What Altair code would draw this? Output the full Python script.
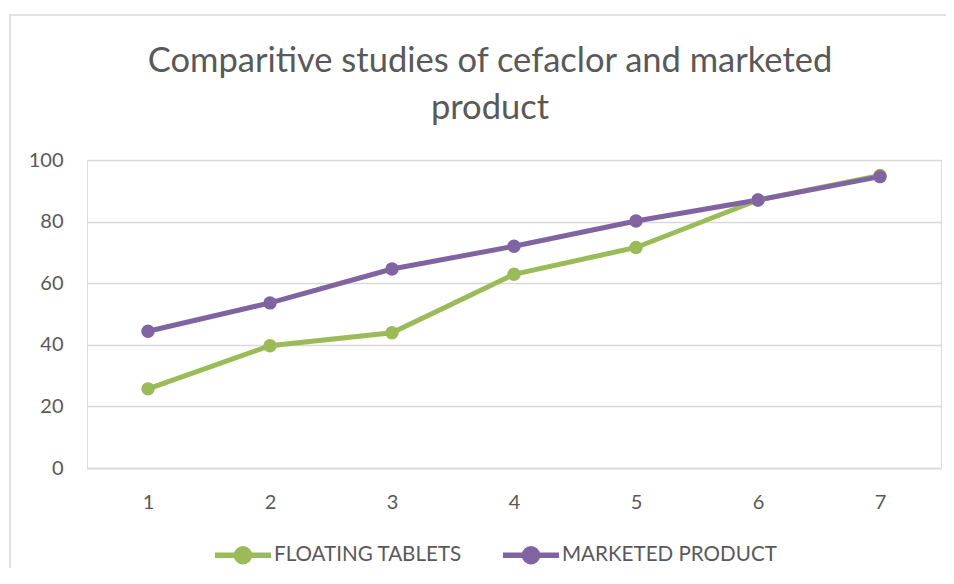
import altair as alt
import pandas as pd

days = [1, 2, 3, 4, 5, 6, 7]
floating = [25.7, 39.7, 43.9, 62.9, 71.6, 87.0, 95.0]
marketed = [44.4, 53.6, 64.6, 72.0, 80.2, 87.0, 94.6]
series = ["FLOATING TABLETS", "MARKETED PRODUCT"]
colors = ["#9BBB59", "#8064A2"]
y_ticks = [0, 20, 40, 60, 80, 100]
title_lines = ["Comparitive studies of cefaclor and marketed", "product"]

df = pd.DataFrame({
    "x": days + days,
    "y": floating + marketed,
    "series": [series[0]] * len(days) + [series[1]] * len(days),
})

FONT = "Lato"
GREY = "#595959"
LEGEND_SYMBOL = ("M-1,0L1,0M-0.232,0A0.232,0.232 0 1,1 0.232,0"
                 "A0.232,0.232 0 1,1 -0.232,0Z")

lines = alt.Chart(df).mark_line(
    strokeWidth=5,
    point=alt.OverlayMarkDef(size=180, filled=True, opacity=1),
).encode(
    x=alt.X("x:O", scale=alt.Scale(padding=0.5),
            axis=alt.Axis(title=None, labelAngle=0, ticks=False, tickSize=0,
                          domain=True, domainColor="#d9d9d9", domainWidth=1.3,
                          grid=False, labelPadding=24, labelFontSize=20,
                          labelFont=FONT, labelColor=GREY)),
    y=alt.Y("y:Q", scale=alt.Scale(domain=[0, 100], nice=False),
            axis=alt.Axis(title=None, values=y_ticks, ticks=False, tickSize=0,
                          domain=False, grid=True, gridColor="#d9d9d9",
                          gridWidth=1.3, labelPadding=24, labelFontSize=20,
                          labelFont=FONT, labelColor=GREY)),
    color=alt.Color("series:N", scale=alt.Scale(domain=series, range=colors),
                    legend=alt.Legend(title=None, orient="none", direction="horizontal",
                                      legendX=125, legendY=364, padding=0,
                                      labelFont=FONT, labelFontSize=20.6,
                                      labelColor=GREY, labelLimit=0,
                                      labelOffset=0, columnPadding=30,
                                      symbolType=LEGEND_SYMBOL, symbolSize=3136,
                                      symbolStrokeWidth=5.5)),
)

frame = alt.Chart(pd.DataFrame({"a": [0]})).mark_rect(
    fillOpacity=0, stroke="#d9d9d9", strokeWidth=1.5
).encode(
    x=alt.value(-77), x2=alt.value(862), y=alt.value(-145), y2=alt.value(411)
)

chart = alt.layer(frame, lines).properties(
    width=854,
    height=308,
    title=alt.TitleParams(text=title_lines, font=FONT, fontSize=34.5,
                          fontWeight="normal", color=GREY, anchor="middle",
                          lineHeight=47, dx=-24, offset=0, dy=112),
    autosize=alt.AutoSizeParams(type="none"),
    padding={"left": 79, "top": 152, "right": 5, "bottom": 100},
).configure_view(stroke=None).configure(background="white")

chart.save("out.html", embed_options={"renderer": "svg", "actions": False})
